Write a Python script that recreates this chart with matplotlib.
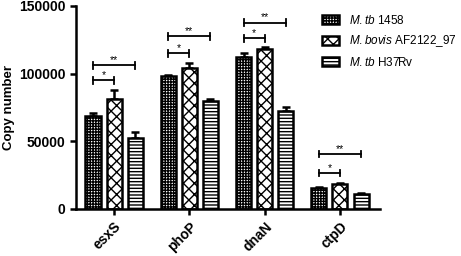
import numpy as np
import matplotlib
matplotlib.use('Agg')
import matplotlib.pyplot as plt

plt.rcParams['font.family'] = ['Liberation Sans', 'DejaVu Sans']
plt.rcParams['mathtext.fontset'] = 'custom'
plt.rcParams['mathtext.it'] = 'Liberation Sans:italic'
plt.rcParams['mathtext.rm'] = 'Liberation Sans'
plt.rcParams['hatch.linewidth'] = 1.0

# 数据
genes = ['esxS', 'phoP', 'dnaN', 'ctpD']
series_names = [r'$\mathit{M.tb}$ 1458', r'$\mathit{M.bovis}$ AF2122_97', r'$\mathit{M.tb}$ H37Rv']
mtb1458 = [68500, 98000, 112000, 15500]
mbovis = [81000, 104000, 118500, 18500]
h37rv = [52500, 80000, 72500, 11000]
err_1458 = [2500, 800, 3000, 600]
err_bovis = [7000, 3500, 1000, 900]
err_h37rv = [4000, 1000, 2500, 600]

# 显著性标记高度
sig_star = [95000, 115000, 126000, 26500]
sig_dstar = [106000, 127500, 137500, 40500]

hatches = ['++++++', 'xxx', '-----']
offsets = [-0.28, 0.0, 0.28]
width = 0.2

fig = plt.figure(figsize=(4.61, 2.56), dpi=100)
ax = fig.add_axes([0.165, 0.184, 0.659, 0.793])

x = np.arange(len(genes))
values = [mtb1458, mbovis, h37rv]
errs = [err_1458, err_bovis, err_h37rv]
for vals, e, h, off, name in zip(values, errs, hatches, offsets, series_names):
    ax.bar(x + off, vals, width, color='white', edgecolor='black',
           linewidth=1.8, hatch=h, label=name, zorder=2)
    ax.errorbar(x + off, vals, yerr=[np.zeros(len(e)), e], fmt='none',
                ecolor='black', elinewidth=1.8, capsize=3, capthick=1.8,
                zorder=1)


def bracket(x0, x1, y, text):
    ax.plot([x0, x1], [y, y], color='black', lw=1.3)
    ax.plot([x0, x0], [y - 2500, y + 2500], color='black', lw=1.3)
    ax.plot([x1, x1], [y - 2500, y + 2500], color='black', lw=1.3)
    ax.text((x0 + x1) / 2, y + 300, text, ha='center', va='bottom', fontsize=7.5)


for i in range(len(genes)):
    bracket(i + offsets[0], i + offsets[1], sig_star[i], '*')
    bracket(i + offsets[0], i + offsets[2], sig_dstar[i], '**')

ax.set_xlim(-0.505, 3.53)
ax.set_ylim(0, 150000)
ax.set_yticks([0, 50000, 100000, 150000])
ax.set_yticklabels(['0', '50000', '100000', '150000'], fontweight='bold', fontsize=10)
ax.set_xticks(x)
ax.set_xticklabels(genes, rotation=45, ha='right', rotation_mode='anchor',
                   fontweight='bold', fontsize=10)
ax.set_ylabel('Copy number', fontweight='bold', fontsize=9.5, labelpad=3)
ax.spines['top'].set_visible(False)
ax.spines['right'].set_visible(False)
ax.spines['left'].set_linewidth(1.8)
ax.spines['bottom'].set_linewidth(1.8)
ax.tick_params(width=1.8, length=4)

fig.legend(loc='upper left', bbox_to_anchor=(0.698, 0.945), frameon=False,
           fontsize=8.5, handlelength=1.5, handleheight=0.8, labelspacing=0.55,
           handletextpad=0.8, borderpad=0, borderaxespad=0)

fig.savefig('out.png', dpi=100)
plt.close(fig)
